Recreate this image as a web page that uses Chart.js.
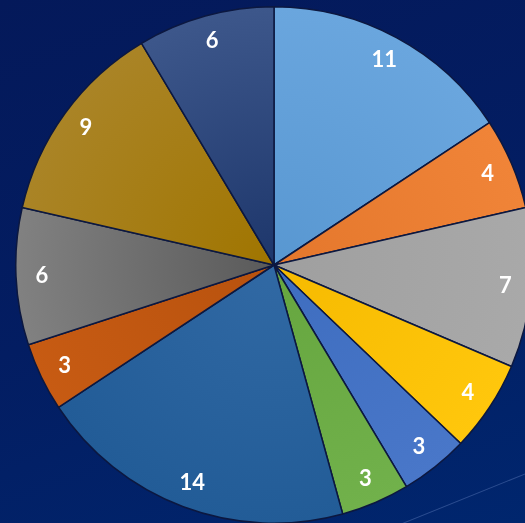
<!DOCTYPE html>
<html>
<head>
<meta charset="utf-8">
<script src="https://cdn.jsdelivr.net/npm/chart.js@4.4.1/dist/chart.umd.min.js"></script>
<style>
  html, body {
    margin: 0;
    padding: 0;
    width: 525px;
    height: 523px;
    overflow: hidden;
    background: linear-gradient(160deg, #04195a 0%, #031d62 50%, #00266e 100%);
    position: relative;
  }
  #wrap {
    position: absolute;
    left: 15px;
    top: 6px;
    width: 518px;
    height: 518px;
  }
  .streak {
    position: absolute;
    left: 395px;
    top: 526px;
    width: 160px;
    height: 1px;
    background: rgba(120, 150, 210, 0.35);
    transform: rotate(-22deg);
    transform-origin: left center;
  }
</style>
</head>
<body>
<div class="streak"></div>
<div id="wrap"><canvas id="pieChart"></canvas></div>
<script>
// slice values, clockwise from 12 o'clock
const labels = ['A', 'B', 'C', 'D', 'E', 'F', 'G', 'H', 'I', 'J', 'K'];
const values = [11, 4, 7, 4, 3, 3, 14, 3, 6, 9, 6];

// inner (centre) and outer (rim) shades for each slice
const innerColors = ['#5897d1', '#e4772c', '#9f9f9f', '#f6ba00', '#3e6dbf', '#66a63f',
                     '#3169a4', '#b8520e', '#5a5a5a', '#a07500', '#1d366b'];
const outerColors = ['#6aa6de', '#f08438', '#a9a9a9', '#ffc70c', '#4977c9', '#71b14b',
                     '#225c97', '#c75b13', '#818181', '#aa8426', '#3d578b'];

function sliceFill(context) {
    const chart = context.chart;
    const area = chart.chartArea;
    const i = context.dataIndex;
    if (!area) return innerColors[i];
    const cx = (area.left + area.right) / 2;
    const cy = (area.top + area.bottom) / 2;
    const r = Math.min(area.right - area.left, area.bottom - area.top) / 2;
    const g = chart.ctx.createRadialGradient(cx, cy, 0, cx, cy, r);
    g.addColorStop(0, innerColors[i]);
    g.addColorStop(1, outerColors[i]);
    return g;
}

// value labels placed along each slice's middle angle
const valueLabels = {
    id: 'valueLabels',
    afterDatasetsDraw(chart) {
        const ctx = chart.ctx;
        const meta = chart.getDatasetMeta(0);
        ctx.save();
        ctx.fillStyle = '#ffffff';
        ctx.font = 'bold 22px Lato, "Open Sans", sans-serif';
        ctx.textAlign = 'center';
        ctx.textBaseline = 'middle';
        meta.data.forEach((arc, i) => {
            const mid = (arc.startAngle + arc.endAngle) / 2;
            const r = arc.outerRadius * 0.9;
            ctx.fillText(String(values[i]), arc.x + Math.cos(mid) * r, arc.y + Math.sin(mid) * r);
        });
        ctx.restore();
    }
};

new Chart(document.getElementById('pieChart'), {
    type: 'pie',
    data: {
        labels: labels,
        datasets: [{
            data: values,
            backgroundColor: sliceFill,
            borderColor: '#0c1840',
            borderWidth: 1.5
        }]
    },
    options: {
        responsive: true,
        maintainAspectRatio: false,
        animation: false,
        layout: { padding: 0 },
        plugins: {
            legend: { display: false },
            tooltip: { enabled: false }
        }
    },
    plugins: [valueLabels]
});
</script>
</body>
</html>
